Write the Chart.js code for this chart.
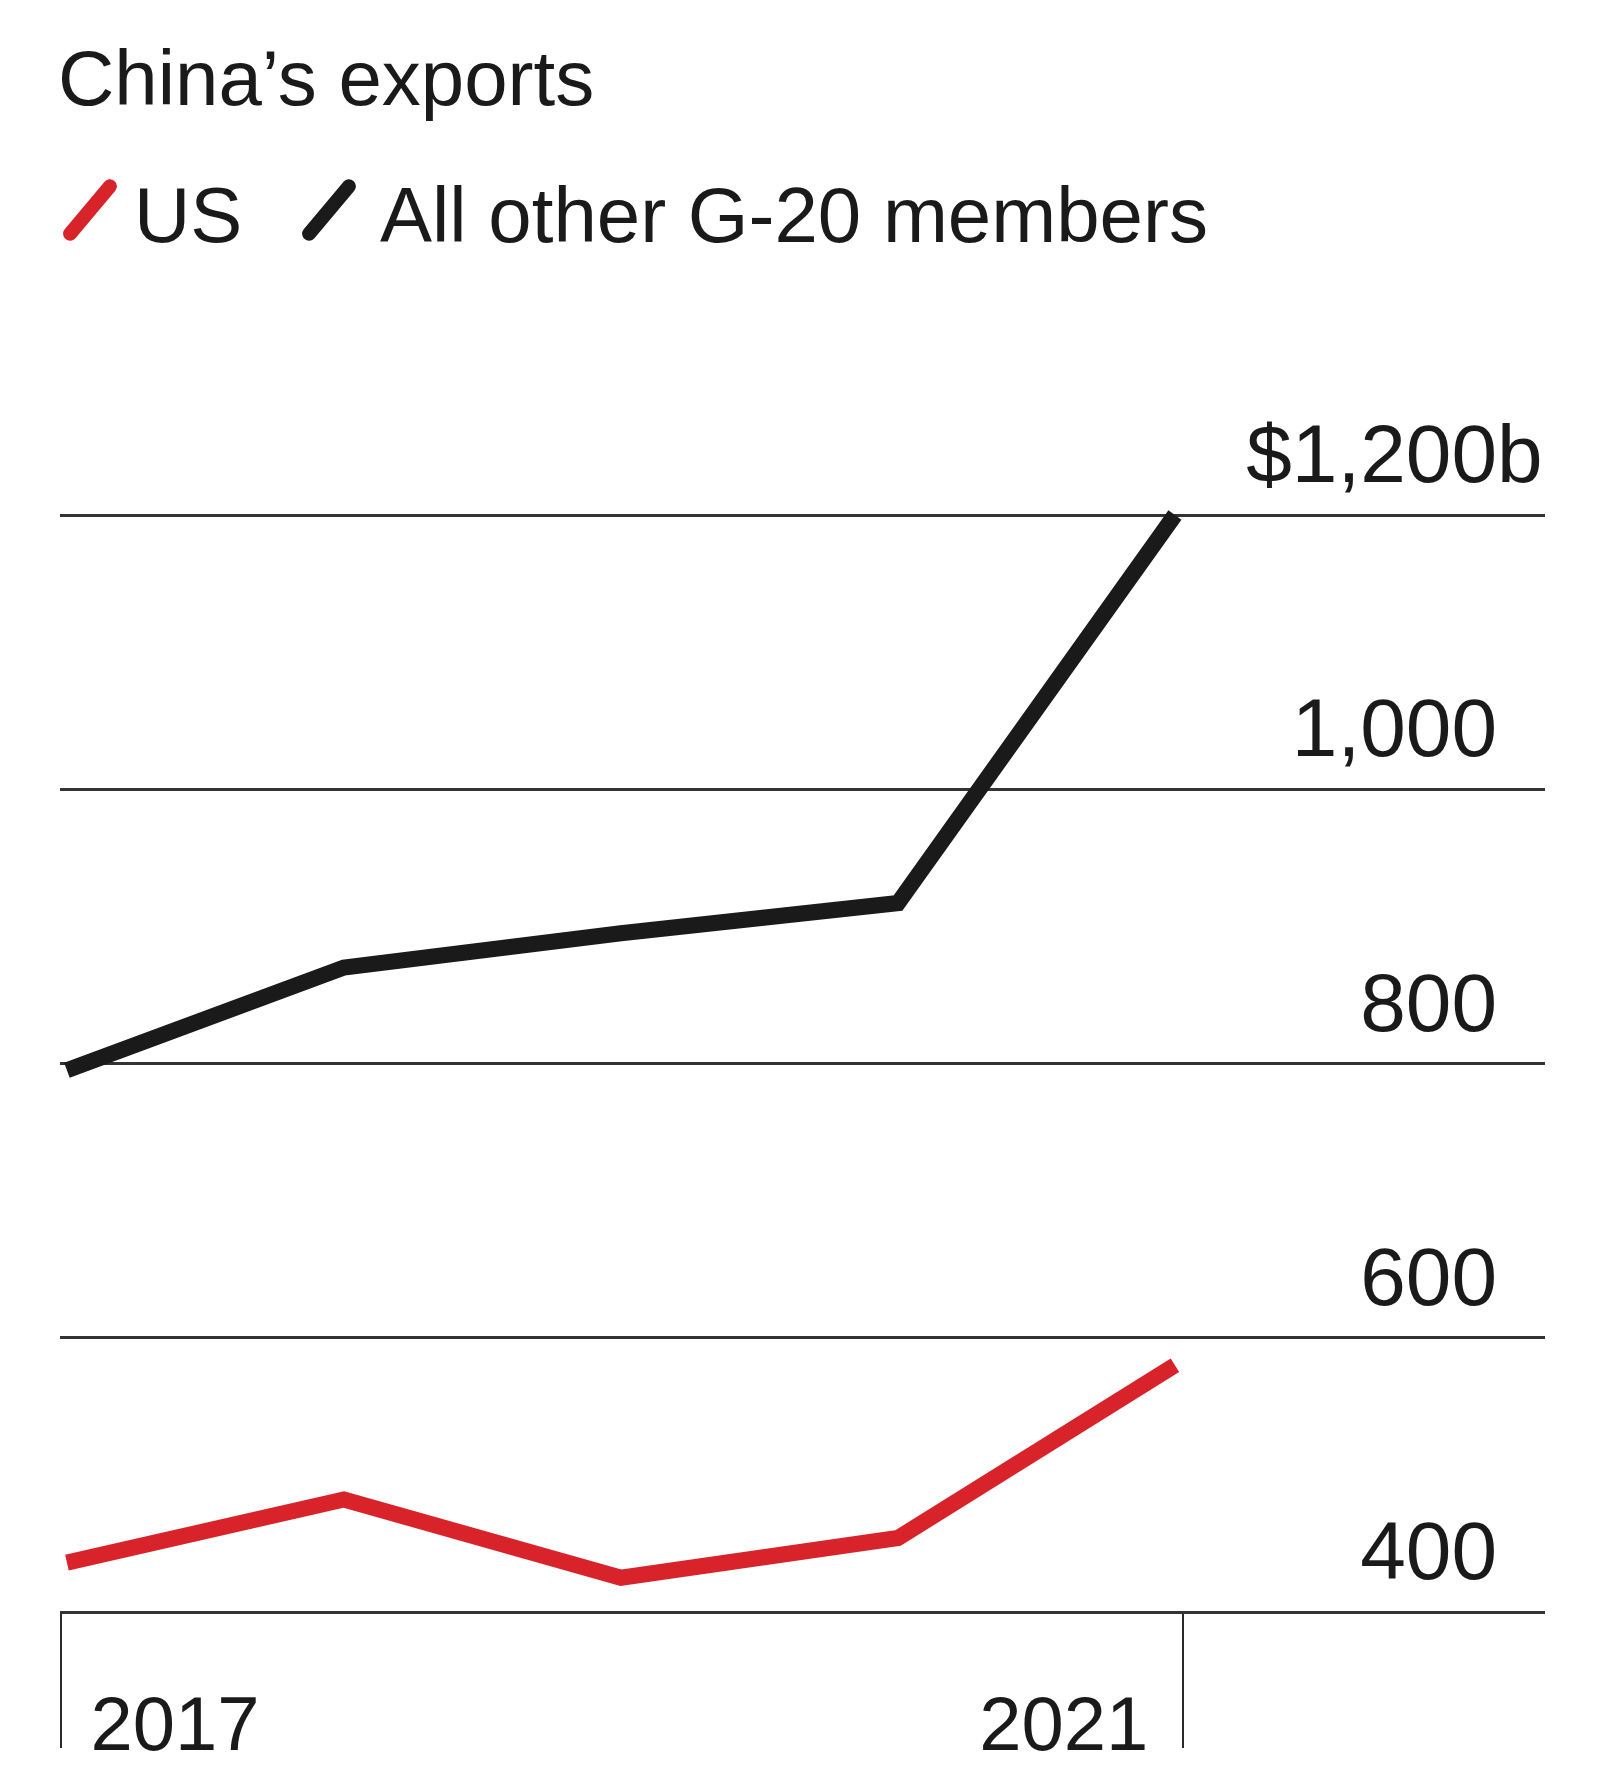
<!DOCTYPE html>
<html>
<head>
<meta charset="utf-8">
<title>China's exports</title>
<script src="https://cdn.jsdelivr.net/npm/chart.js@4.4.1/dist/chart.umd.min.js"></script>
<style>
  body { margin: 0; background: #fff; font-family: "Liberation Sans", Arial, Helvetica, sans-serif; color: #1a1a1a; }
  #wrap { position: relative; width: 1621px; height: 1766px; overflow: hidden; }
  #chart { position: absolute; left: 0; top: 0; }
  .title { position: absolute; left: 58px; top: 40px; font-size: 78px; line-height: 77px; white-space: nowrap; }
  .leg { position: absolute; top: 177px; font-size: 78px; line-height: 77px; white-space: nowrap; }
  .swatch { position: absolute; width: 76px; height: 14px; border-radius: 7px; transform: rotate(-50deg); }
</style>
</head>
<body>
<div id="wrap">
  <canvas id="chart" width="1621" height="1766"></canvas>
  <div class="title">China’s exports</div>
  <div class="swatch" style="left:52px; top:203px; background:#d8232a;"></div>
  <div class="leg" style="left:134px;">US</div>
  <div class="swatch" style="left:291px; top:203px; background:#1a1a1a;"></div>
  <div class="leg" style="left:380px;">All other G-20 members</div>
</div>
<script>
// data
var years = [2017, 2018, 2019, 2020, 2021];
var usExports = [436, 482, 425, 454, 580];
var otherG20Exports = [795, 870, 895, 917, 1200];

// y axis
var yTicks = [400, 600, 800, 1000, 1200];
var yTickLabels = ['400', '600', '800', '1,000', '$1,200'];
var yTopSuffix = 'b';

// x axis bracket marks and their labels
var xEdgeTicks = [2016.98, 2021.03];
var xEdgeLabels = ['2017', '2021'];

var red = '#d8232a';
var black = '#1a1a1a';
var fontFamily = '"Liberation Sans", Arial, Helvetica, sans-serif';

function points(vals) {
  return years.map(function (yr, i) { return { x: yr, y: vals[i] }; });
}

// draws the tick labels the way the original does (above the gridlines, right side)
var labelPlugin = {
  id: 'labelPlugin',
  afterDraw: function (chart) {
    var ctx = chart.ctx;
    var area = chart.chartArea;
    var ys = chart.scales.y;
    var xs = chart.scales.x;
    ctx.save();
    ctx.fillStyle = '#1a1a1a';
    ctx.textBaseline = 'alphabetic';

    ctx.font = '82px ' + fontFamily;
    var xr = area.right - 48;
    yTicks.forEach(function (v, i) {
      var py = ys.getPixelForValue(v) - 33;
      ctx.textAlign = 'right';
      ctx.fillText(yTickLabels[i], xr, py);
      if (i === yTicks.length - 1) {
        ctx.textAlign = 'left';
        ctx.fillText(yTopSuffix, xr, py);
      }
    });

    ctx.font = '76px ' + fontFamily;
    var by = area.bottom + 138;
    ctx.textAlign = 'left';
    ctx.fillText(xEdgeLabels[0], xs.getPixelForValue(xEdgeTicks[0]) + 29, by);
    ctx.textAlign = 'right';
    ctx.fillText(xEdgeLabels[1], xs.getPixelForValue(xEdgeTicks[1]) - 35, by);
    ctx.restore();
  }
};

var chart = new Chart(document.getElementById('chart'), {
  type: 'line',
  data: {
    datasets: [{
      label: 'US',
      data: points(usExports),
      borderColor: red,
      backgroundColor: red,
      borderWidth: 16,
      pointRadius: 0,
      borderJoinStyle: 'miter',
      borderCapStyle: 'butt',
      tension: 0,
      fill: false,
      clip: false
    }, {
      label: 'All other G-20 members',
      data: points(otherG20Exports),
      borderColor: black,
      backgroundColor: black,
      borderWidth: 16,
      pointRadius: 0,
      borderJoinStyle: 'miter',
      borderCapStyle: 'butt',
      tension: 0,
      fill: false,
      clip: false
    }]
  },
  options: {
    responsive: false,
    animation: false,
    events: [],
    layout: { padding: { left: 60, right: 76, top: 515, bottom: 18 } },
    plugins: {
      legend: { display: false },
      title: { display: false },
      tooltip: { enabled: false }
    },
    scales: {
      x: {
        type: 'linear',
        min: 2016.975,
        max: 2022.336,
        afterBuildTicks: function (axis) {
          axis.ticks = xEdgeTicks.map(function (v) { return { value: v }; });
        },
        ticks: { display: false },
        border: { display: false },
        grid: {
          drawOnChartArea: false,
          drawTicks: true,
          tickLength: 136,
          color: '#2a2a2a',
          lineWidth: 2
        }
      },
      y: {
        position: 'right',
        min: 400,
        max: 1200,
        afterBuildTicks: function (axis) {
          axis.ticks = yTicks.map(function (v) { return { value: v }; });
        },
        ticks: { display: false },
        border: { display: false },
        grid: {
          drawTicks: false,
          color: '#333333',
          lineWidth: 3
        }
      }
    }
  },
  plugins: [labelPlugin]
});
</script>
</body>
</html>
